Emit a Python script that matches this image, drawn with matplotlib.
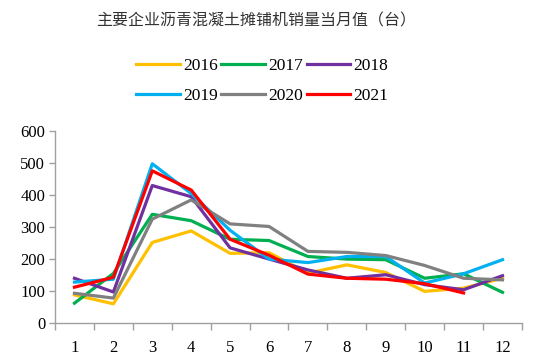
import matplotlib
matplotlib.use("Agg")
import matplotlib.pyplot as plt
import numpy as np

months = ["1", "2", "3", "4", "5", "6", "7", "8", "9", "10", "11", "12"]
y2016 = [88, 60, 252, 288, 218, 220, 156, 182, 158, 99, 109, 140]
y2017 = [62, 155, 340, 320, 262, 258, 208, 200, 198, 140, 154, 96]
y2018 = [140, 97, 430, 395, 235, 200, 166, 140, 151, 120, 104, 148]
y2019 = [128, 137, 498, 405, 290, 200, 189, 208, 208, 125, 154, 198]
y2020 = [93, 78, 325, 385, 310, 302, 224, 221, 211, 180, 140, 135]
y2021 = [112, 143, 476, 416, 262, 212, 153, 140, 137, 123, 94]
series_names = ["2016", "2017", "2018", "2019", "2020", "2021"]
yticks = [0, 100, 200, 300, 400, 500, 600]
title = "主要企业沥青混凝土摊铺机销量当月值（台）"

colors = ["#FFC000", "#00B050", "#7030A0", "#00B0F0", "#808080", "#FF0000"]
data = [y2016, y2017, y2018, y2019, y2020, y2021]

serif = ["Liberation Serif", "DejaVu Serif"]
fig = plt.figure(figsize=(5.5, 3.64), dpi=100)
ax = fig.add_axes([0.1, 0.1126, 0.849, 0.527])

handles = []
for name, vals, c in zip(series_names, data, colors):
    x = np.arange(1, len(vals) + 1)
    h, = ax.plot(x, vals, color=c, lw=2.3, label=name, solid_joinstyle="round")
    handles.append(h)

ax.set_xlim(0.5, 12.5)
ax.set_ylim(0, 600)
ax.set_xticks(np.arange(1, 13))
ax.set_xticklabels(months, fontfamily=serif, fontsize=12)
ax.set_xticks(np.arange(0.5, 13, 1), minor=True)
ax.tick_params(axis="x", which="major", length=0, pad=12)
ax.tick_params(axis="x", which="minor", length=5, color="#A0A0A0", width=1)
ax.set_yticks(yticks)
ax.set_yticklabels([str(v) for v in yticks], fontfamily=serif, fontsize=12)
ax.tick_params(axis="y", length=4, color="#A0A0A0", width=1, pad=3)
for s in ["top", "right"]:
    ax.spines[s].set_visible(False)
for s in ["left", "bottom"]:
    ax.spines[s].set_color("#A0A0A0")
    ax.spines[s].set_linewidth(1)

fig.text(0.466, 0.943, title, ha="center", va="center", fontsize=11.5,
         fontfamily=["Noto Sans CJK SC", "DejaVu Sans"], color="#333333")

order = [0, 3, 1, 4, 2, 5]
fig.legend([handles[i] for i in order], [series_names[i] for i in order],
           ncol=3, loc="center", bbox_to_anchor=(0.477, 0.778), frameon=False,
           prop={"family": serif, "size": 12.5}, handlelength=2.5,
           handletextpad=0.2, columnspacing=0.2, labelspacing=0.8)

fig.savefig("out.png", dpi=100)
